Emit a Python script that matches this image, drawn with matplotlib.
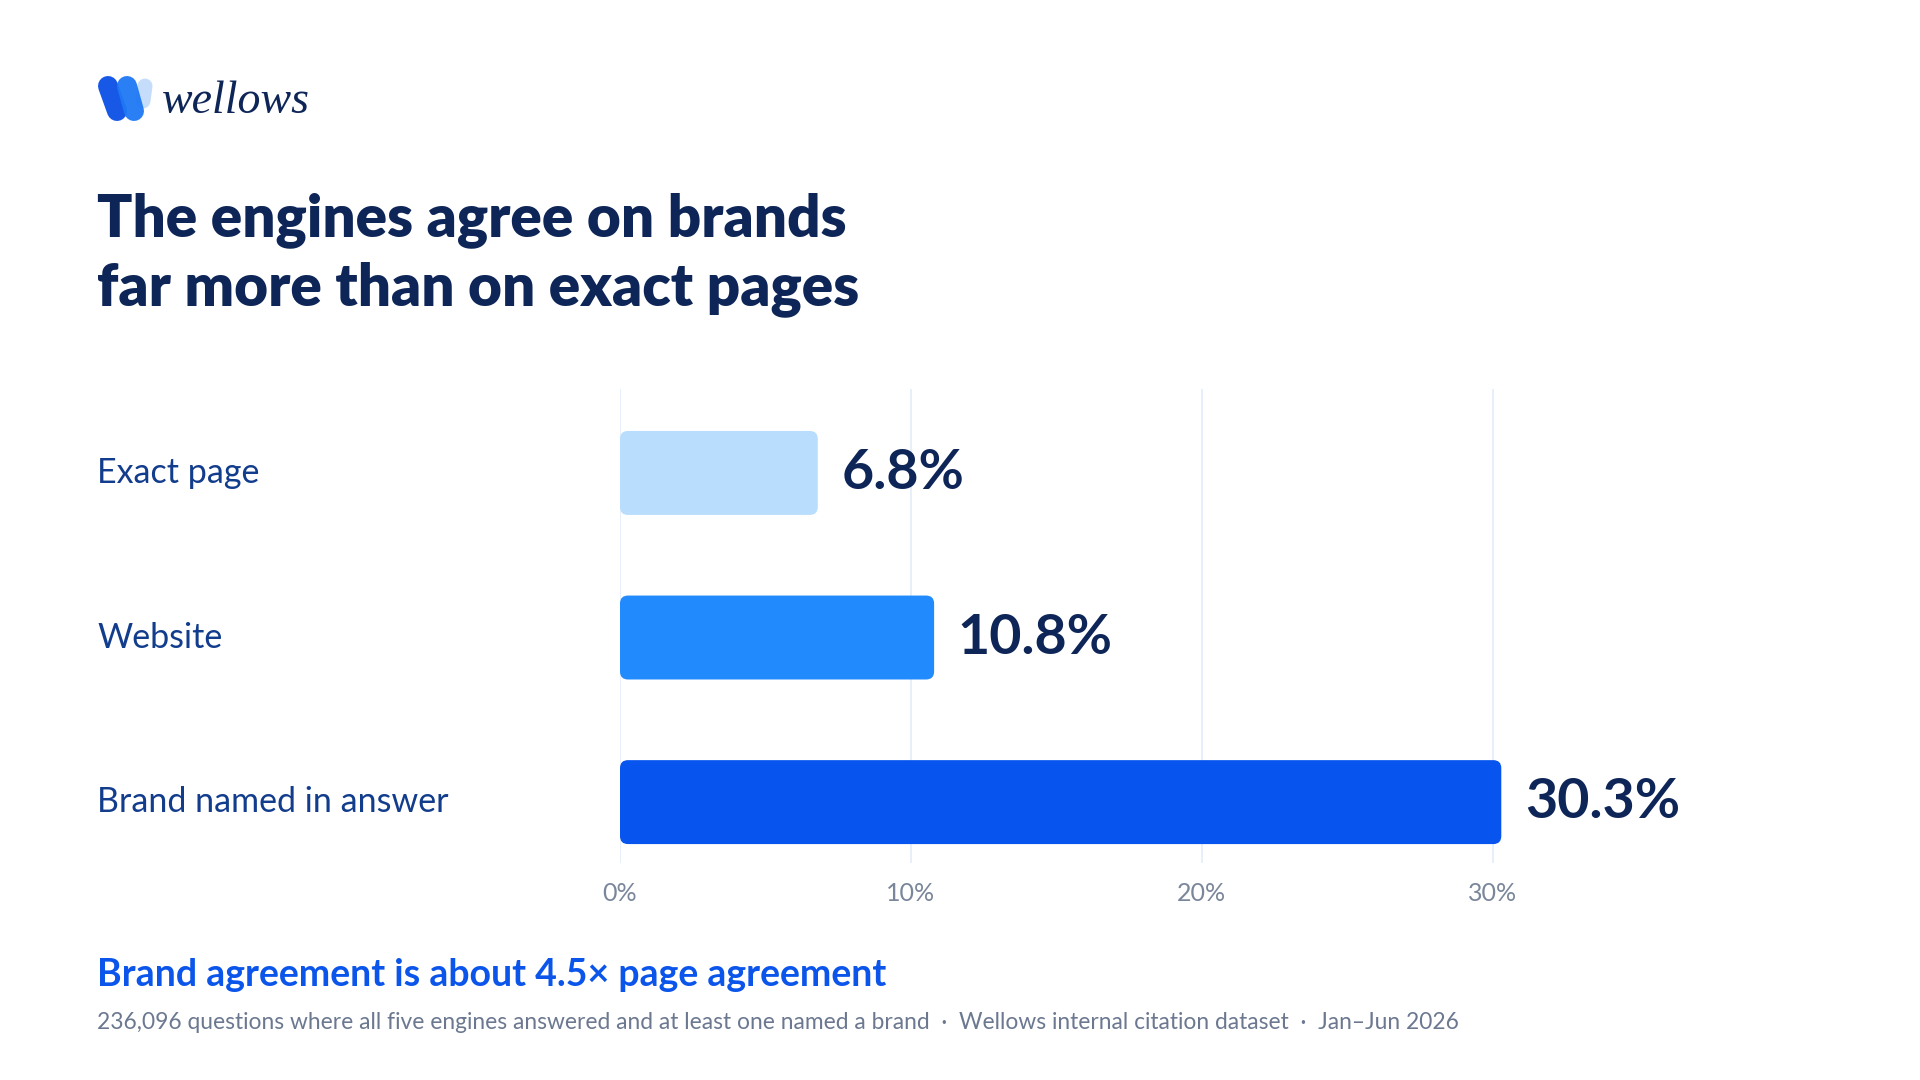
"""Wellows chart: brand vs page agreement across engines."""

import matplotlib

matplotlib.use("Agg")
import matplotlib.pyplot as plt
from matplotlib.lines import Line2D
from matplotlib.patches import FancyBboxPatch
from matplotlib.transforms import blended_transform_factory

# --- data ---
categories = ["Exact page", "Website", "Brand named in answer"]
values = [6.8, 10.8, 30.3]
value_labels = ["6.8%", "10.8%", "30.3%"]
bar_colors = ["#B8DDFD", "#218AFD", "#0755EE"]
x_ticks = [0, 10, 20, 30]
x_tick_labels = ["0%", "10%", "20%", "30%"]

title_lines = ["The engines agree on brands", "far more than on exact pages"]
headline = "Brand agreement is about 4.5\u00d7 page agreement"
footnote = ("236,096 questions where all five engines answered and at least one named a brand"
            "  \u00b7  Wellows internal citation dataset  \u00b7  Jan\u2013Jun 2026")

NAVY = "#0E2558"
LABEL_BLUE = "#123C8C"
GRID = "#E3EEF9"
W, H = 1920, 1080

plt.rcParams["font.family"] = ["Lato", "DejaVu Sans"]

fig = plt.figure(figsize=(19.2, 10.8), dpi=100)
fig.patch.set_facecolor("white")


def fx(px):
    return px / W


def fy(py):
    return 1 - py / H


# axes placed in pixel terms of the reference
ax_left, ax_right, ax_top, ax_bottom = 620, 1638, 389, 863
ax = fig.add_axes([fx(ax_left), fy(ax_bottom), fx(ax_right - ax_left), (ax_bottom - ax_top) / H])
ax.set_xlim(0, 35)
ax.set_ylim(2.37, -0.51)
for s in ax.spines.values():
    s.set_visible(False)
ax.set_yticks([])
ax.set_xticks(x_ticks)
ax.set_xticklabels(x_tick_labels, fontsize=18, color="#7A869A")
ax.tick_params(axis="x", length=0, pad=14)
for t in x_ticks:
    ax.axvline(t, color=GRID, lw=1.2, zorder=0)

# rounded bars
bar_h = 0.51
px_per_x = (ax_right - ax_left) / 35
px_per_y = (ax_bottom - ax_top) / 2.88
radius_px = 8
label_tf = blended_transform_factory(fig.transFigure, ax.transData)
for i, (v, c) in enumerate(zip(values, bar_colors)):
    patch = FancyBboxPatch(
        (0, i - bar_h / 2), v, bar_h,
        boxstyle=f"round,pad=0,rounding_size={radius_px / px_per_x}",
        mutation_aspect=px_per_x / px_per_y,
        facecolor=c, edgecolor="none", zorder=2,
    )
    ax.add_patch(patch)
    ax.annotate(value_labels[i], (v, i), xytext=(17, 0), textcoords="offset points",
                va="center", ha="left", fontsize=40, fontweight="bold", color=NAVY)
    ax.text(fx(97), i, categories[i], transform=label_tf,
            va="center", ha="left", fontsize=24.5, color=LABEL_BLUE)

# title
fig.text(fx(97), fy(236), title_lines[0], fontsize=42, fontweight="heavy", color=NAVY, va="baseline")
fig.text(fx(97), fy(305), title_lines[1], fontsize=42, fontweight="heavy", color=NAVY, va="baseline")

# footer
fig.text(fx(97), fy(986), headline, fontsize=27, fontweight="bold", color="#0B55EA", va="baseline")
fig.text(fx(97), fy(1029), footnote, fontsize=16.4, color="#6B7890", va="baseline")

# logo: three tilted pills
pills = [
    ((145, 86), (143, 101), 15, "#C2DBFB"),
    ((108, 86), (117, 111), 20, "#0B4FE6"),
    ((127, 86), (134, 111), 20, "#1E78F4"),
]
for (x0, y0), (x1, y1), w, c in pills:
    fig.add_artist(Line2D([fx(x0), fx(x1)], [fy(y0), fy(y1)], transform=fig.transFigure,
                          lw=w * 0.72, color=c, solid_capstyle="round", alpha=0.95))
fig.text(fx(162), fy(113), "wellows", fontsize=33, style="italic", family="Liberation Serif",
         color=NAVY, va="baseline")

fig.savefig("out.png", dpi=100)
